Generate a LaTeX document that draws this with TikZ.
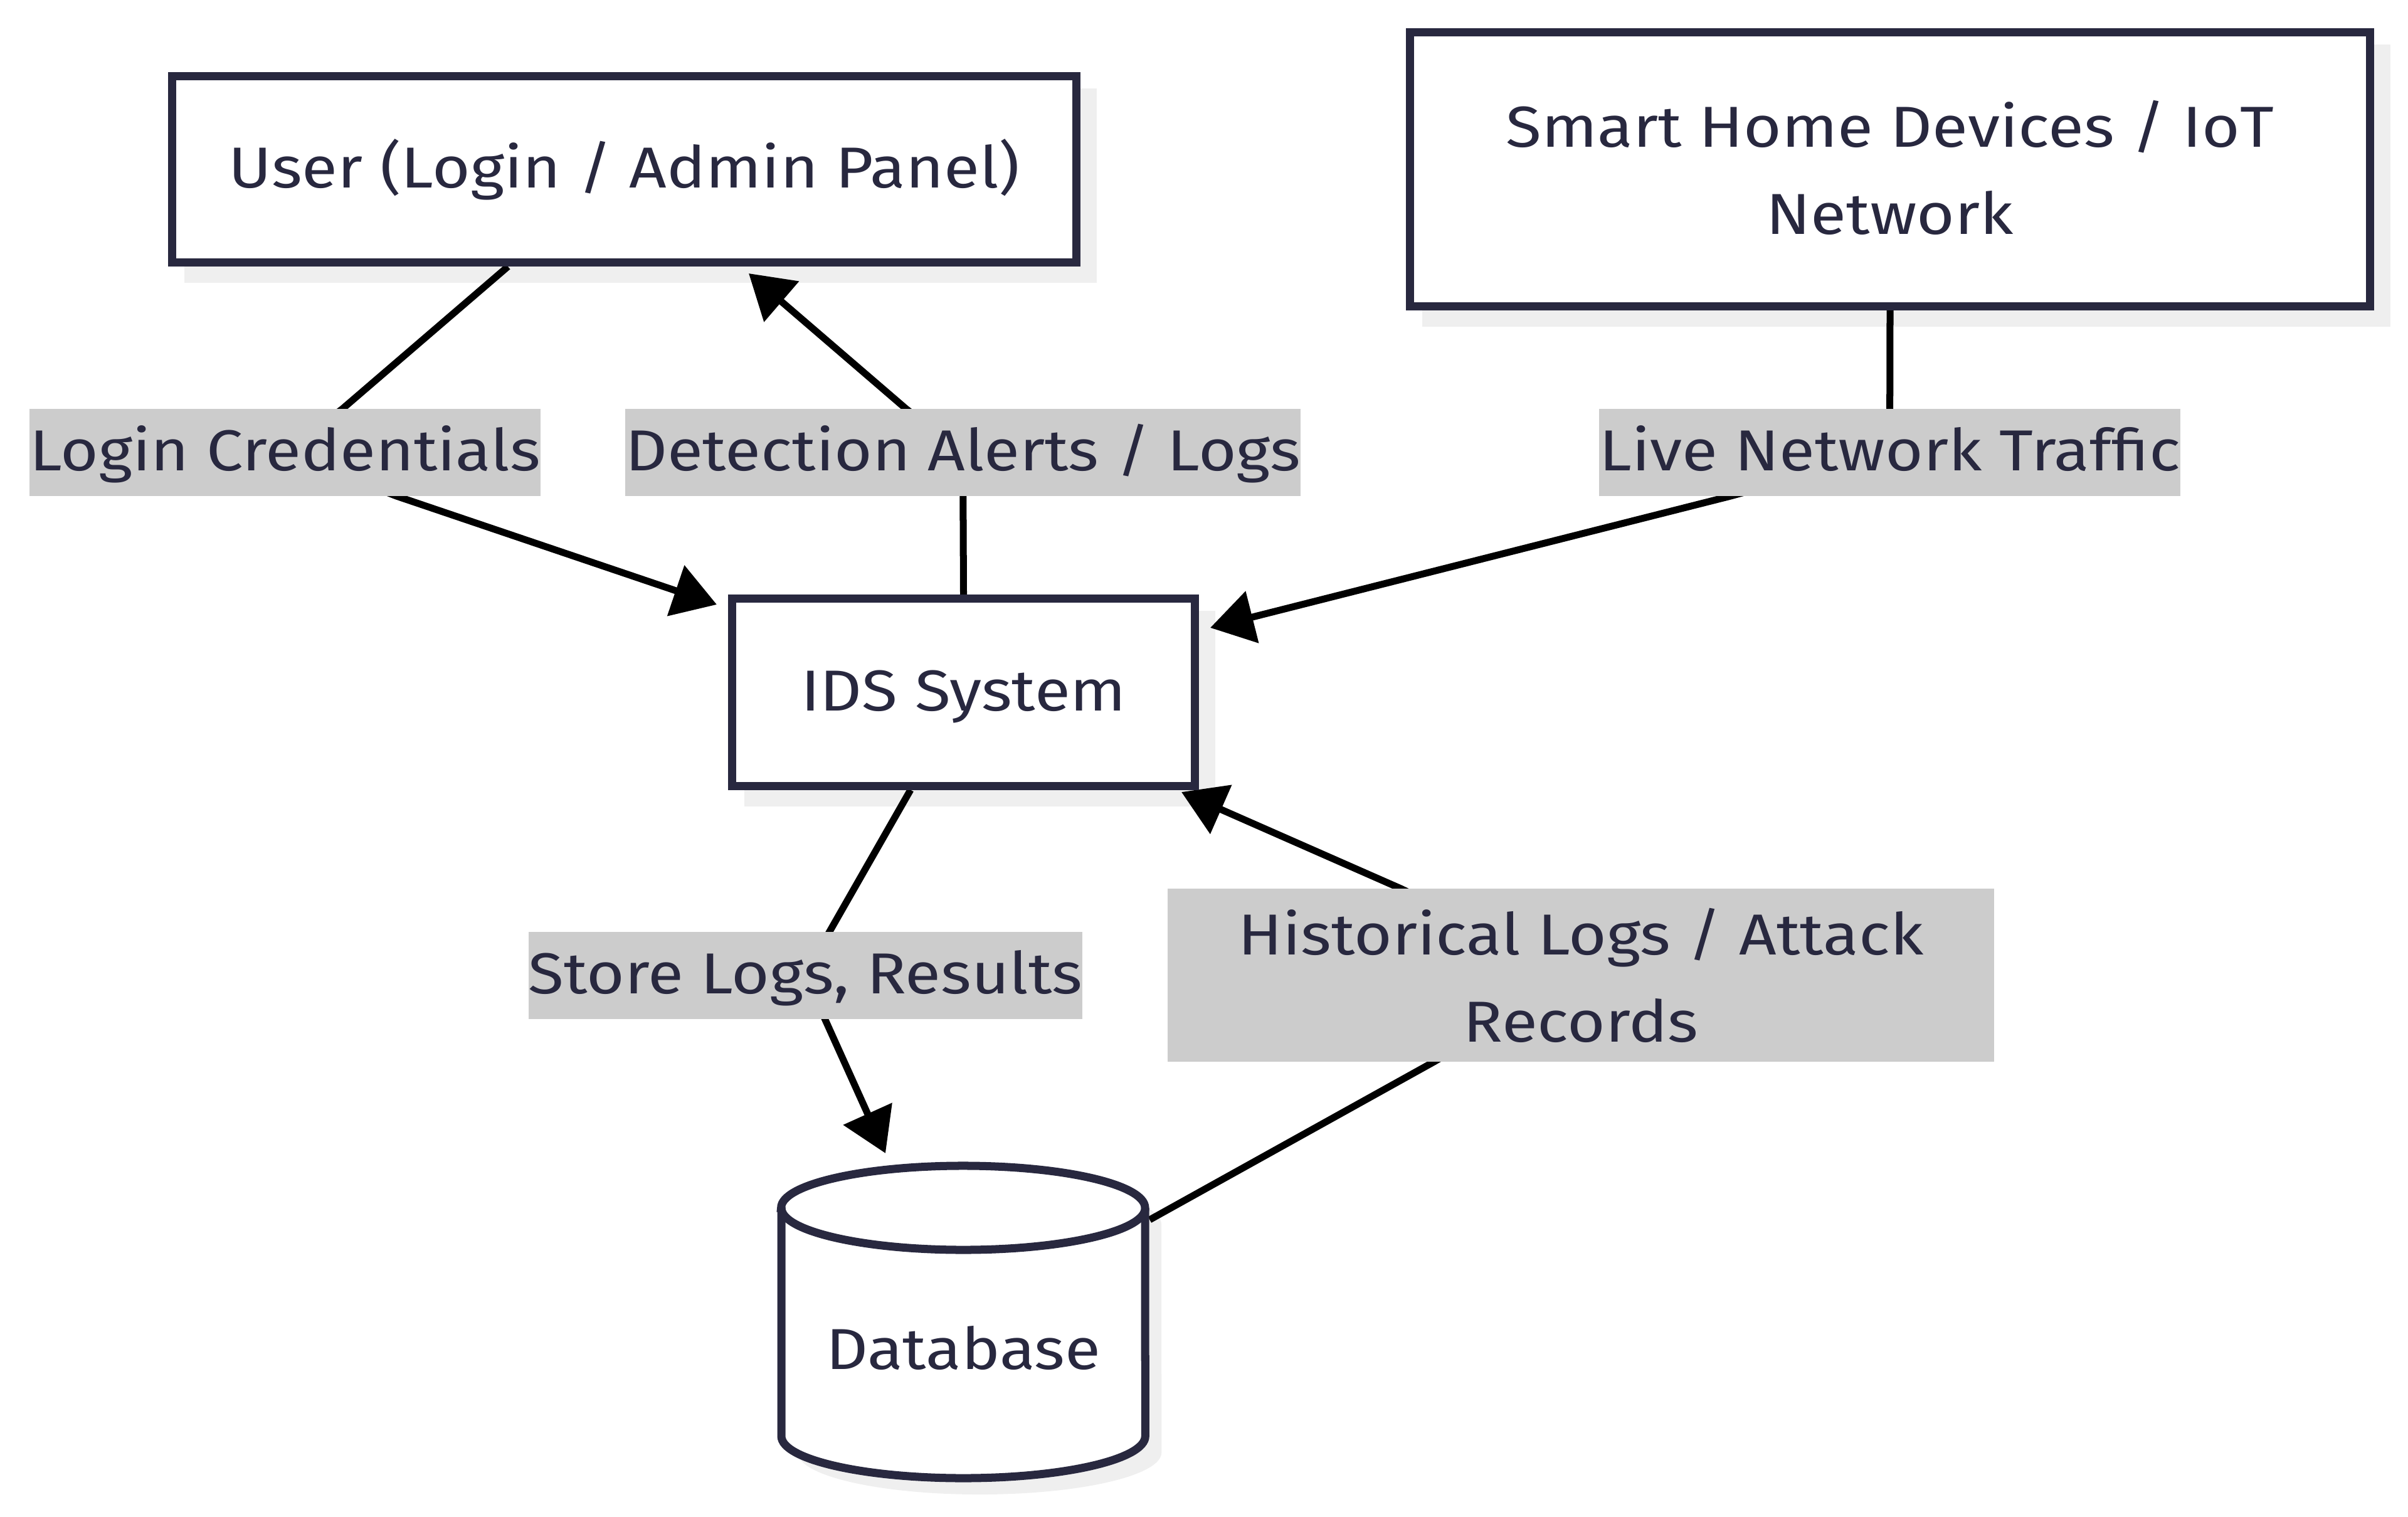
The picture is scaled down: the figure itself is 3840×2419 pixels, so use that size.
\documentclass[tikz,border=0pt]{standalone}
\usepackage{fontspec}
\setmainfont[FakeStretch=1.13]{Fira Sans}
\usetikzlibrary{arrows.meta}
\pgfdeclarelayer{shadowlayer}
\pgfdeclarelayer{edgelayer}
\pgfsetlayers{shadowlayer,edgelayer,main}
\definecolor{ink}{HTML}{28283F}
\definecolor{shadowc}{HTML}{EFEFEF}
\definecolor{labc}{HTML}{CCCCCC}
\tikzset{
  every node/.style={font=\fontsize{26.2pt}{39.5pt}\selectfont, text=ink},
  box/.style={draw=ink, fill=white, line width=0.13cm, inner sep=0pt, align=center},
  oneline/.style={text height=0.75cm, text depth=0.17cm},
  lab/.style={fill=labc, inner sep=0pt, minimum height=1.39cm, align=center},
  edge/.style={draw=black, line width=0.11cm, line join=round,
    -{Triangle[length=0.69cm,width=0.83cm]}},
  shade/.style={fill=shadowc}
}
\begin{document}
\begin{tikzpicture}[x=0.01cm, y=-0.01cm]
\useasboundingbox (0,0) rectangle (3840,2419);

% nodes
\node[box, oneline, minimum width=14.42cm, minimum height=2.97cm] (user) at (995.5,270) {User (Login / Admin Panel)};
\node[box, minimum width=15.30cm, minimum height=4.36cm] (smart) at (3014,270) {\raisebox{0.06cm}{Smart Home Devices / IoT}\\\raisebox{0.06cm}{Network}};
\node[box, oneline, minimum width=7.37cm, minimum height=2.98cm] (ids) at (1536.5,1104) {IDS System};

% database cylinder
\begin{pgfonlayer}{shadowlayer}
  \fill[shade, shift={(26,26)}] (1246,1926) -- (1246,2290)
    arc[start angle=180, end angle=360, x radius=2.9cm, y radius=0.67cm]
    -- (1826,1926)
    arc[start angle=0, end angle=180, x radius=2.9cm, y radius=0.67cm] -- cycle;
  \foreach \n in {user,smart,ids}
    \fill[shade] ([shift={(26,26)}]\n.north west) rectangle ([shift={(26,26)}]\n.south east);
\end{pgfonlayer}
\draw[draw=ink, fill=white, line width=0.13cm] (1246,1926) -- (1246,2290)
    arc[start angle=180, end angle=360, x radius=2.9cm, y radius=0.67cm]
    -- (1826,1926)
    arc[start angle=0, end angle=180, x radius=2.9cm, y radius=0.67cm] -- cycle;
\draw[draw=ink, line width=0.13cm] (1246,1926)
    arc[start angle=180, end angle=360, x radius=2.9cm, y radius=0.67cm];
\node[minimum width=5.93cm, minimum height=5.10cm, inner sep=0pt] (db) at (1536,2108) {};
\node[oneline] at (1536,2154) {Database};

% edge labels
\node[lab, oneline] (lab1) at (454.5,721.5) {Login Credentials};
\node[lab, oneline] (lab2) at (1535.5,721.5) {Detection Alerts / Logs};
\node[lab, oneline] (lab3) at (3013.5,721.5) {Live Network Traffic};
\node[lab, oneline] (lab4) at (1284.5,1555.5) {Store Logs, Results};
\node[lab, minimum width=13.18cm, minimum height=2.76cm] (lab5) at (2521,1555) {Historical Logs / Attack\\Records};

% connector points
\coordinate (x1) at (810,0);
\coordinate (a1) at (546,652);
\coordinate (b1) at (632,791);
\coordinate (t1) at (1143,964);
\coordinate (a2) at (1445,652);
\coordinate (t2) at (1194,436);
\coordinate (b3) at (2760,791);
\coordinate (t3) at (1930,1001);
\coordinate (x4) at (1452,0);
\coordinate (a4) at (1322,1487);
\coordinate (b4) at (1315,1624);
\coordinate (t4) at (1412,1839);
\coordinate (y5) at (0,1945);
\coordinate (b5) at (2287,1693);
\coordinate (a5) at (2234,1417);
\coordinate (t5) at (1884,1263);

\begin{pgfonlayer}{edgelayer}
  \draw[edge] (user.south -| x1) -- (a1) -- (lab1.center) -- (b1) -- (t1);
  \draw[edge] (ids.north) -- (lab2.center) -- (a2) -- (t2);
  \draw[edge] (smart.south) -- (lab3.center) -- (b3) -- (t3);
  \draw[edge] (ids.south -| x4) -- (a4) -- (lab4.center) -- (b4) -- (t4);
  \draw[edge] (db.east |- y5) -- (b5) -- (lab5.center) -- (a5) -- (t5);
\end{pgfonlayer}
\end{tikzpicture}
\end{document}
